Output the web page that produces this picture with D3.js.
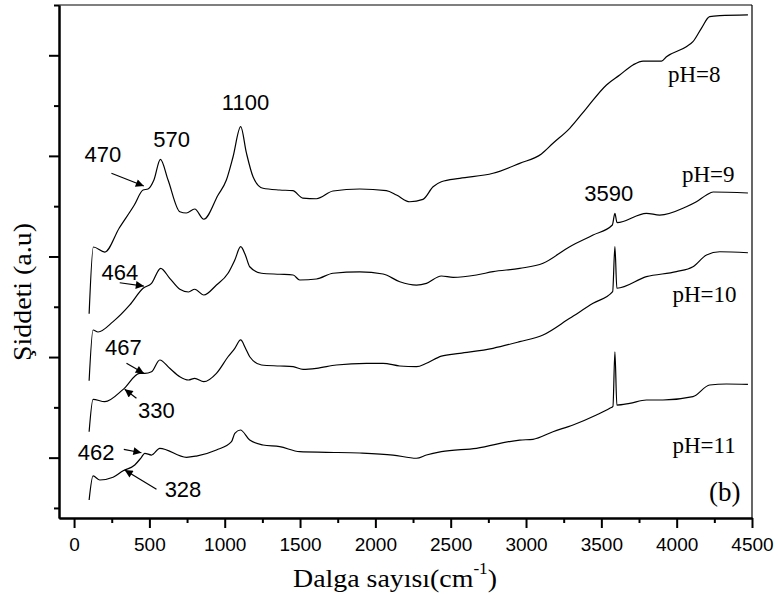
<!DOCTYPE html>
<html>
<head>
<meta charset="utf-8">
<script src="https://cdn.jsdelivr.net/npm/d3@7"></script>
<style>
body { margin: 0; background: #fff; }
.axis path, .axis line { stroke: #000; stroke-width: 2px; }
.axis text { font-family: 'Liberation Sans', Arial, sans-serif; font-size: 19px; fill: #000; }
.line { fill: none; stroke: #000; stroke-width: 1.2px; }
.peak { font-family: 'Liberation Sans', Arial, sans-serif; font-size: 22px; fill: #000; }
.serif { font-family: 'Liberation Serif', 'Times New Roman', serif; fill: #000; }
</style>
</head>
<body>
<script>
// spectra: [wavenumber cm-1, intensity a.u. (x100, stacked)]
var ph8 = [[100,243],[128,309.4],[204,304.4],[300,328.3],[400,351.2],[458,366.1],[491,367.1],[530,376],
	[573,396.6],[624,376],[702,344.5],[745,343.2],[801,347.2],[861,337],[956,361.1],[1011,376],[1055,398.9],
	[1106,429],[1144,402.9],[1188,379.3],[1254,367.8],[1365,366.1],[1452,365.4],[1518,358.1],[1609,357.4],
	[1719,365.1],[1896,367.1],[2073,365.4],[2140,361.1],[2228,354.4],[2316,356.8],[2383,369.3],[2438,374.3],
	[2560,377.7],[2781,382.7],[2958,392.6],[3102,401.9],[3179,412.5],[3290,427.4],[3401,447.3],[3534,470.5],
	[3622,480.4],[3710,490.4],[3777,494.3],[3899,494.3],[3932,498.6],[4064,508.5],[4108,513.5],[4164,526.8],
	[4219,538.4],[4286,539.4],[4473,540.1]];

var ph9 = [[100,176.5],[126,226.9],[159,224.9],[259,235.2],[370,251.8],[458,268.4],[514,273.3],[575,288.2],
	[635,278.3],[702,267.4],[760,264.7],[801,267.4],[861,261.7],[945,271.6],[1022,283.3],[1067,296.5],
	[1106,309.7],[1137,301.5],[1166,289.8],[1244,283.3],[1365,282.3],[1454,281.6],[1498,276.6],[1609,277.6],
	[1719,283.3],[1896,284.6],[2051,282.6],[2162,274.9],[2273,271.6],[2339,273.3],[2438,280.6],[2516,279.3],
	[2671,281.6],[2781,284.9],[2958,288.2],[3113,293.2],[3290,309.7],[3445,321.3],[3573,331.3],[3590,342.9],
	[3604,333.6],[3799,342.9],[3887,341.2],[4064,349.5],[4131,354.4],[4198,361.1],[4242,364.1],[4473,363.1]];

var ph10 = [[100,125.8],[126,158],[204,155.6],[326,167.9],[436,183.8],[469,183.8],[514,185.4],[569,197.1],
	[635,188.8],[702,180.5],[760,177.2],[801,178.9],[861,175.5],[945,183.8],[1022,200.3],[1067,208.7],
	[1106,217],[1137,209],[1166,200.3],[1244,192.1],[1365,191.1],[1454,190.4],[1520,187.8],[1609,188.8],
	[1741,192.1],[1941,193.8],[2051,193.8],[2162,191.1],[2273,190.4],[2339,193.8],[2438,201],[2560,203.7],
	[2781,208.7],[2958,215.3],[3113,221.9],[3290,238.5],[3445,253.4],[3575,265],[3590,309.7],[3603,268.4],
	[3799,279.9],[3998,284.9],[4108,289.8],[4198,301.5],[4286,304.7],[4473,303.7]];

var ph11 = [[100,57.9],[126,81.8],[171,77.8],[259,80.5],[326,87],[403,92.7],[447,100.3],[469,104.3],
	[514,102.6],[569,109.3],[746,100.3],[812,101.6],[945,107.6],[1045,115.9],[1067,124.2],[1104,127.5],
	[1166,117.5],[1254,112.6],[1365,110.9],[1498,105.9],[1675,105.3],[1896,104.6],[2117,102.6],[2273,99.4],
	[2339,102.6],[2438,105.9],[2671,109.3],[2958,117.5],[3046,118.2],[3179,125.8],[3312,132.5],[3467,142.4],
	[3556,149.1],[3577,151],[3590,205.3],[3603,152.3],[3688,154],[3799,157.3],[3909,157.3],[4108,160.6],
	[4219,172.2],[4330,173.2],[4473,172.9]];

var series = [ph8, ph9, ph10, ph11];
var seriesLabels = ['pH=8', 'pH=9', 'pH=10', 'pH=11'];

var xTicks = [0, 500, 1000, 1500, 2000, 2500, 3000, 3500, 4000, 4500];
var xMinorTicks = [250, 750, 1250, 1750, 2250, 2750, 3250, 3750, 4250];
var yTicks = [100, 200, 300, 400, 500];
var yMinorTicks = [50, 150, 250, 350, 450, 550];

var peakLabels = ['470', '570', '1100', '3590', '464', '467', '330', '462', '328'];

var width = 779;
var height = 601;

var x = d3.scaleLinear()
	.domain([-100, 4500])
	.range([59, 752]);

var y = d3.scaleLinear()
	.domain([40, 550])
	.range([518, 5]);

var line = d3.line()
	.curve(d3.curveMonotoneX)
	.x(function(d) { return x(d[0]); })
	.y(function(d) { return y(d[1]); });

var svg = d3.select('body').append('svg')
	.attr('width', width)
	.attr('height', height);

svg.append('defs').append('marker')
	.attr('id', 'arrow')
	.attr('markerUnits', 'userSpaceOnUse')
	.attr('viewBox', '0 0 10 10')
	.attr('refX', 10)
	.attr('refY', 5)
	.attr('markerWidth', 11)
	.attr('markerHeight', 8)
	.attr('orient', 'auto')
	.append('path')
		.attr('d', 'M0,0L10,5L0,10z')
		.attr('fill', '#000');

// frame top / right
svg.append('line')
	.attr('x1', x(-100)).attr('x2', x(4500))
	.attr('y1', y(550)).attr('y2', y(550))
	.attr('stroke', '#000').attr('stroke-width', 1.2);
svg.append('line')
	.attr('x1', x(4500)).attr('x2', x(4500))
	.attr('y1', y(550)).attr('y2', y(40))
	.attr('stroke', '#000').attr('stroke-width', 1.2);

svg.append('g')
	.attr('class', 'axis axis--x')
	.attr('transform', 'translate(0,' + y(40) + ')')
	.call(d3.axisBottom(x).tickValues(xMinorTicks).tickSize(5).tickSizeOuter(0).tickFormat(''));

svg.append('g')
	.attr('class', 'axis axis--x')
	.attr('transform', 'translate(0,' + y(40) + ')')
	.call(d3.axisBottom(x).tickValues(xTicks).tickSize(10).tickSizeOuter(0).tickPadding(10).tickFormat(d3.format('d')));

svg.append('g')
	.attr('class', 'axis axis--y')
	.attr('transform', 'translate(' + x(-100) + ',0)')
	.call(d3.axisLeft(y).tickValues(yMinorTicks).tickSize(5).tickSizeOuter(0).tickFormat(''));

svg.append('g')
	.attr('class', 'axis axis--y')
	.attr('transform', 'translate(' + x(-100) + ',0)')
	.call(d3.axisLeft(y).tickValues(yTicks).tickSize(10).tickSizeOuter(0).tickFormat(''));

svg.selectAll('.spectrum')
	.data(series)
	.enter().append('path')
		.attr('class', 'line spectrum')
		.attr('d', line);

// pH labels
var phPos = [[3942, 473.7], [4035, 374.3], [3972, 255], [3972, 104.3]];
svg.selectAll('.phlabel')
	.data(seriesLabels)
	.enter().append('text')
		.attr('class', 'serif phlabel')
		.attr('x', function(d, i) { return x(phPos[i][0]); })
		.attr('y', function(d, i) { return y(phPos[i][1]); })
		.style('font-size', '23px')
		.text(function(d) { return d; });

svg.append('text')
	.attr('class', 'serif')
	.attr('x', x(4215))
	.attr('y', y(57))
	.style('font-size', '27px')
	.text('(b)');

// peak annotations
var peakPos = [[191, 394.4], [648, 409.1], [1138, 445.6], [3549, 355.1], [304, 276.6],
	[328, 202], [546, 139.1], [146, 97.7], [723, 60.6]];
svg.selectAll('.peak')
	.data(peakLabels)
	.enter().append('text')
		.attr('class', 'peak')
		.attr('text-anchor', 'middle')
		.attr('x', function(d, i) { return x(peakPos[i][0]); })
		.attr('y', function(d, i) { return y(peakPos[i][1]); })
		.text(function(d) { return d; });

var arrows = [
	[[248, 382.7], [463, 370]],
	[[303, 273.9], [463, 270.6]],
	[[348, 193.8], [463, 183.8]],
	[[414, 159], [336, 167.9]],
	[[330, 108.3], [447, 104.9]],
	[[547, 68.5], [336, 87.7]]
];
svg.selectAll('.arrow')
	.data(arrows)
	.enter().append('line')
		.attr('class', 'arrow')
		.attr('x1', function(d) { return x(d[0][0]); })
		.attr('y1', function(d) { return y(d[0][1]); })
		.attr('x2', function(d) { return x(d[1][0]); })
		.attr('y2', function(d) { return y(d[1][1]); })
		.attr('stroke', '#000')
		.attr('stroke-width', 1.2)
		.attr('marker-end', 'url(#arrow)');

// axis titles
var xTitle = svg.append('text')
	.attr('class', 'serif')
	.attr('x', 293)
	.attr('y', 587)
	.attr('textLength', 204)
	.attr('lengthAdjust', 'spacingAndGlyphs')
	.style('font-size', '26px');
xTitle.append('tspan').text('Dalga sayısı(cm');
xTitle.append('tspan').attr('dy', -13).style('font-size', '16px').text('-1');
xTitle.append('tspan').attr('dy', 13).text(')');

svg.append('text')
	.attr('class', 'serif')
	.attr('transform', 'translate(31,292) rotate(-90)')
	.attr('text-anchor', 'middle')
	.attr('textLength', 138)
	.attr('lengthAdjust', 'spacingAndGlyphs')
	.style('font-size', '26px')
	.text('Şiddeti (a.u)');
</script>
</body>
</html>
